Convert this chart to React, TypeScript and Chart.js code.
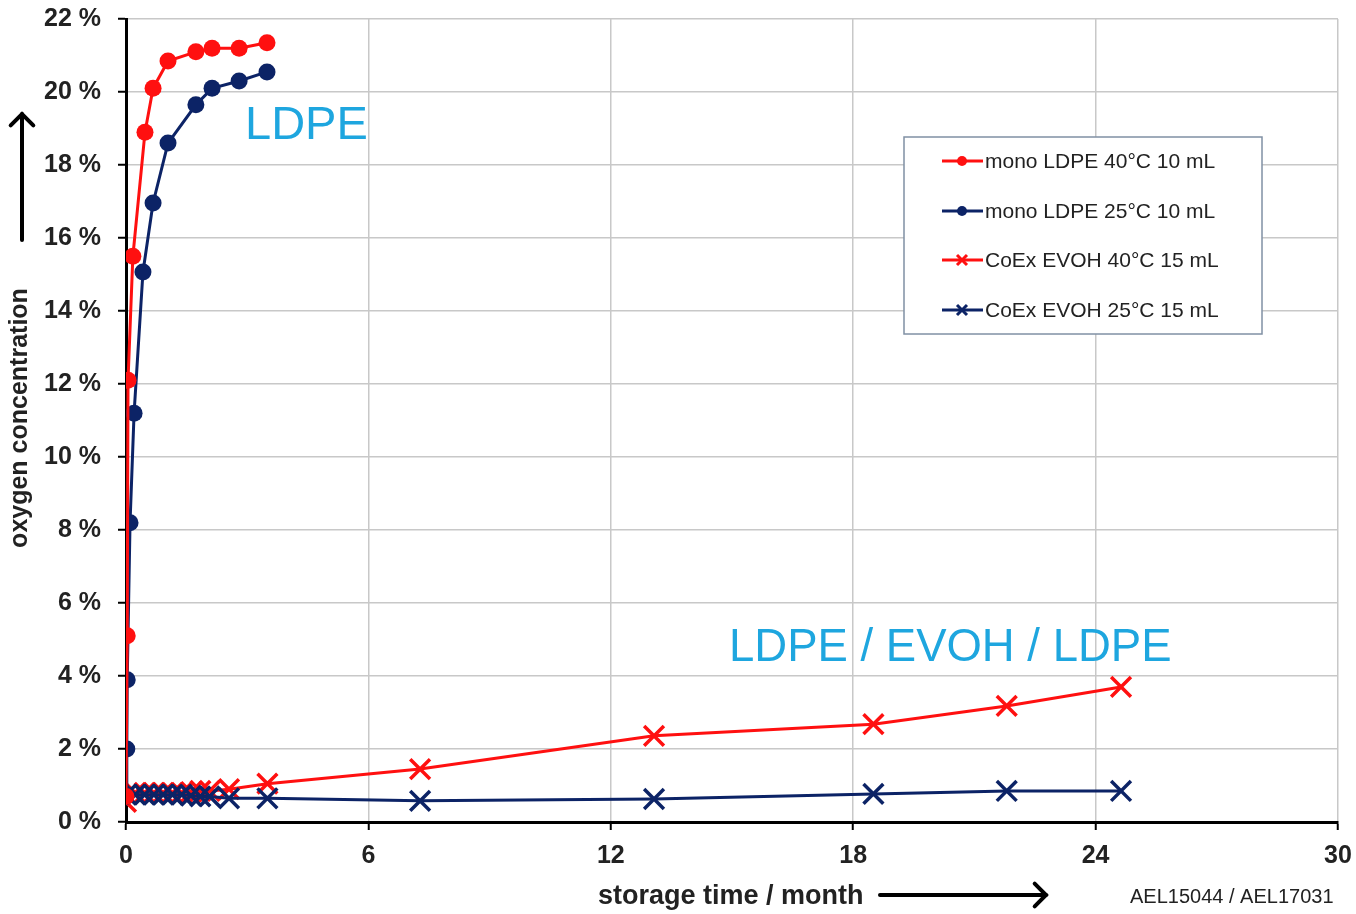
import React, { useEffect, useRef } from "react";
import { Chart, registerables } from "chart.js";

Chart.register(...registerables);

// ---- data ----
const monoLdpe40Time = [0, 0.03, 0.05, 0.17, 0.47, 0.67, 1.04, 1.73, 2.13, 2.8, 3.49];
const monoLdpe40Value = [0.7, 5.1, 12.1, 15.5, 18.9, 20.1, 20.85, 21.1, 21.2, 21.2, 21.35];

const monoLdpe25Time = [0, 0.02, 0.03, 0.1, 0.2, 0.42, 0.67, 1.04, 1.73, 2.13, 2.8, 3.49];
const monoLdpe25Value = [0.7, 2.0, 3.9, 8.2, 11.2, 15.07, 16.96, 18.6, 19.65, 20.1, 20.3, 20.55];

const coex40Time = [0, 0.23, 0.46, 0.69, 0.92, 1.15, 1.38, 1.61, 1.84, 2.07, 2.55, 3.5, 7.28, 13.07, 18.5, 21.8, 24.63];
const coex40Value = [0.55, 0.8, 0.8, 0.8, 0.8, 0.8, 0.8, 0.82, 0.85, 0.85, 0.9, 1.05, 1.45, 2.36, 2.68, 3.18, 3.7];

const coex25Time = [0, 0.23, 0.46, 0.69, 0.92, 1.15, 1.38, 1.61, 1.84, 2.07, 2.55, 3.5, 7.28, 13.07, 18.5, 21.8, 24.63];
const coex25Value = [0.75, 0.75, 0.75, 0.75, 0.75, 0.75, 0.75, 0.72, 0.7, 0.7, 0.65, 0.65, 0.58, 0.63, 0.77, 0.85, 0.85];

const seriesLabels = [
  "mono LDPE 40°C 10 mL",
  "mono LDPE 25°C 10 mL",
  "CoEx EVOH 40°C 15 mL",
  "CoEx EVOH 25°C 15 mL",
];

const xTickStep = 6;
const yTickStep = 2;

const RED = "#ff1010";
const NAVY = "#0c2366";
const CYAN = "#1ea6df";
const FONT = "'Liberation Sans', Arial, sans-serif";

const toPoints = (t: number[], v: number[]) => t.map((x, i) => ({ x, y: v[i] }));

function drawArrowLine(ctx: CanvasRenderingContext2D, x1: number, y1: number, x2: number, y2: number) {
  ctx.save();
  ctx.strokeStyle = "#000";
  ctx.lineWidth = 4;
  ctx.lineCap = "round";
  ctx.lineJoin = "miter";
  ctx.beginPath();
  ctx.moveTo(x1, y1);
  ctx.lineTo(x2, y2);
  ctx.stroke();
  const ang = Math.atan2(y2 - y1, x2 - x1);
  const len = 16;
  ctx.beginPath();
  ctx.moveTo(x2 - len * Math.cos(ang - Math.PI / 4), y2 - len * Math.sin(ang - Math.PI / 4));
  ctx.lineTo(x2, y2);
  ctx.lineTo(x2 - len * Math.cos(ang + Math.PI / 4), y2 - len * Math.sin(ang + Math.PI / 4));
  ctx.stroke();
  ctx.restore();
}

const decorPlugin = {
  id: "decor",
  afterDraw(chart: any) {
    const ctx: CanvasRenderingContext2D = chart.ctx;
    ctx.save();
    // y axis title
    ctx.fillStyle = "#222";
    ctx.font = `bold 25px ${FONT}`;
    ctx.textAlign = "center";
    ctx.textBaseline = "middle";
    ctx.save();
    ctx.translate(20, 418);
    ctx.rotate(-Math.PI / 2);
    ctx.fillText("oxygen concentration", 0, 0);
    ctx.restore();
    drawArrowLine(ctx, 22, 240, 22, 114);

    // x axis title
    ctx.font = `bold 27px ${FONT}`;
    ctx.textAlign = "left";
    ctx.fillStyle = "#222";
    ctx.fillText("storage time / month", 598, 897);
    drawArrowLine(ctx, 880, 895, 1046, 895);

    ctx.font = `20px ${FONT}`;
    ctx.fillStyle = "#222";
    ctx.fillText("AEL15044 / AEL17031", 1130, 897);

    // annotations
    ctx.fillStyle = CYAN;
    ctx.font = `47px ${FONT}`;
    ctx.fillText("LDPE", 245, 126);
    ctx.font = `45.5px ${FONT}`;
    ctx.fillText("LDPE / EVOH / LDPE", 729, 648);

    // legend box
    ctx.fillStyle = "#fff";
    ctx.fillRect(904, 137, 358, 197);
    ctx.strokeStyle = "#8090a4";
    ctx.lineWidth = 1.5;
    ctx.strokeRect(904, 137, 358, 197);
    const ys = [161, 211, 260, 310];
    const cols = [RED, NAVY, RED, NAVY];
    ys.forEach((y, i) => {
      ctx.strokeStyle = cols[i];
      ctx.lineWidth = 3;
      ctx.beginPath();
      ctx.moveTo(942, y);
      ctx.lineTo(983, y);
      ctx.stroke();
      ctx.fillStyle = cols[i];
      if (i < 2) {
        ctx.beginPath();
        ctx.arc(962, y, 5, 0, Math.PI * 2);
        ctx.fill();
      } else {
        ctx.lineWidth = 3;
        ctx.beginPath();
        ctx.moveTo(957, y - 5);
        ctx.lineTo(967, y + 5);
        ctx.moveTo(957, y + 5);
        ctx.lineTo(967, y - 5);
        ctx.stroke();
      }
      ctx.fillStyle = "#222";
      ctx.font = `21px ${FONT}`;
      ctx.textAlign = "left";
      ctx.textBaseline = "middle";
      ctx.fillText(seriesLabels[i], 985, y + 1);
    });
    ctx.restore();
  },
};

export default function App() {
  const ref = useRef<HTMLCanvasElement | null>(null);
  useEffect(() => {
    document.body.style.margin = "0";
    const canvas = ref.current!;
    const chart = new Chart(canvas, {
      type: "line",
      data: {
        datasets: [
          {
            label: seriesLabels[0],
            data: toPoints(monoLdpe40Time, monoLdpe40Value),
            borderColor: RED,
            backgroundColor: RED,
            borderWidth: 3,
            pointStyle: "circle",
            pointRadius: 8.5,
            pointBorderWidth: 0,
            order: 1,
          },
          {
            label: seriesLabels[1],
            data: toPoints(monoLdpe25Time, monoLdpe25Value),
            borderColor: NAVY,
            backgroundColor: NAVY,
            borderWidth: 3,
            pointStyle: "circle",
            pointRadius: 8.5,
            pointBorderWidth: 0,
            order: 2,
          },
          {
            label: seriesLabels[2],
            data: toPoints(coex40Time, coex40Value),
            borderColor: RED,
            backgroundColor: RED,
            borderWidth: 3,
            pointStyle: "crossRot",
            pointRadius: 14,
            pointBorderWidth: 3.5,
            order: 4,
          },
          {
            label: seriesLabels[3],
            data: toPoints(coex25Time, coex25Value),
            borderColor: NAVY,
            backgroundColor: NAVY,
            borderWidth: 3,
            pointStyle: "crossRot",
            pointRadius: 14,
            pointBorderWidth: 3.5,
            order: 3,
          },
        ],
      },
      options: {
        animation: false,
        responsive: false,
        devicePixelRatio: 1,
        layout: { padding: { top: 19, right: 18, left: 0, bottom: 0 } },
        plugins: { legend: { display: false }, tooltip: { enabled: false } },
        elements: { line: { tension: 0 } },
        scales: {
          x: {
            type: "linear",
            min: 0,
            max: 30,
            ticks: {
              stepSize: xTickStep,
              color: "#222",
              font: { family: FONT, size: 25, weight: "bold" },
              padding: 11,
              maxRotation: 0,
            },
            grid: { color: "#c8c8c8", lineWidth: 1.5, tickColor: "#000", tickLength: 8, tickWidth: 2 },
            border: { color: "#000", width: 3 },
            afterFit: (s: any) => {
              s.height = 92;
              s.paddingLeft = 0;
              s.paddingRight = 0;
            },
          },
          y: {
            type: "linear",
            min: 0,
            max: 22,
            ticks: {
              stepSize: yTickStep,
              color: "#222",
              font: { family: FONT, size: 25, weight: "bold" },
              padding: 17,
              callback: (v: any) => `${v} %`,
            },
            grid: { color: "#c8c8c8", lineWidth: 1.5, tickColor: "#000", tickLength: 8, tickWidth: 2 },
            border: { color: "#000", width: 3 },
            afterFit: (s: any) => {
              s.width = 126;
              s.paddingTop = 0;
              s.paddingBottom = 0;
            },
          },
        },
      } as any,
      plugins: [decorPlugin],
    });
    return () => chart.destroy();
  }, []);
  return (
    <div style={{ position: "absolute", left: 0, top: 0, width: 1356, height: 914, background: "#fff" }}>
      <canvas ref={ref} width={1356} height={914} />
    </div>
  );
}
